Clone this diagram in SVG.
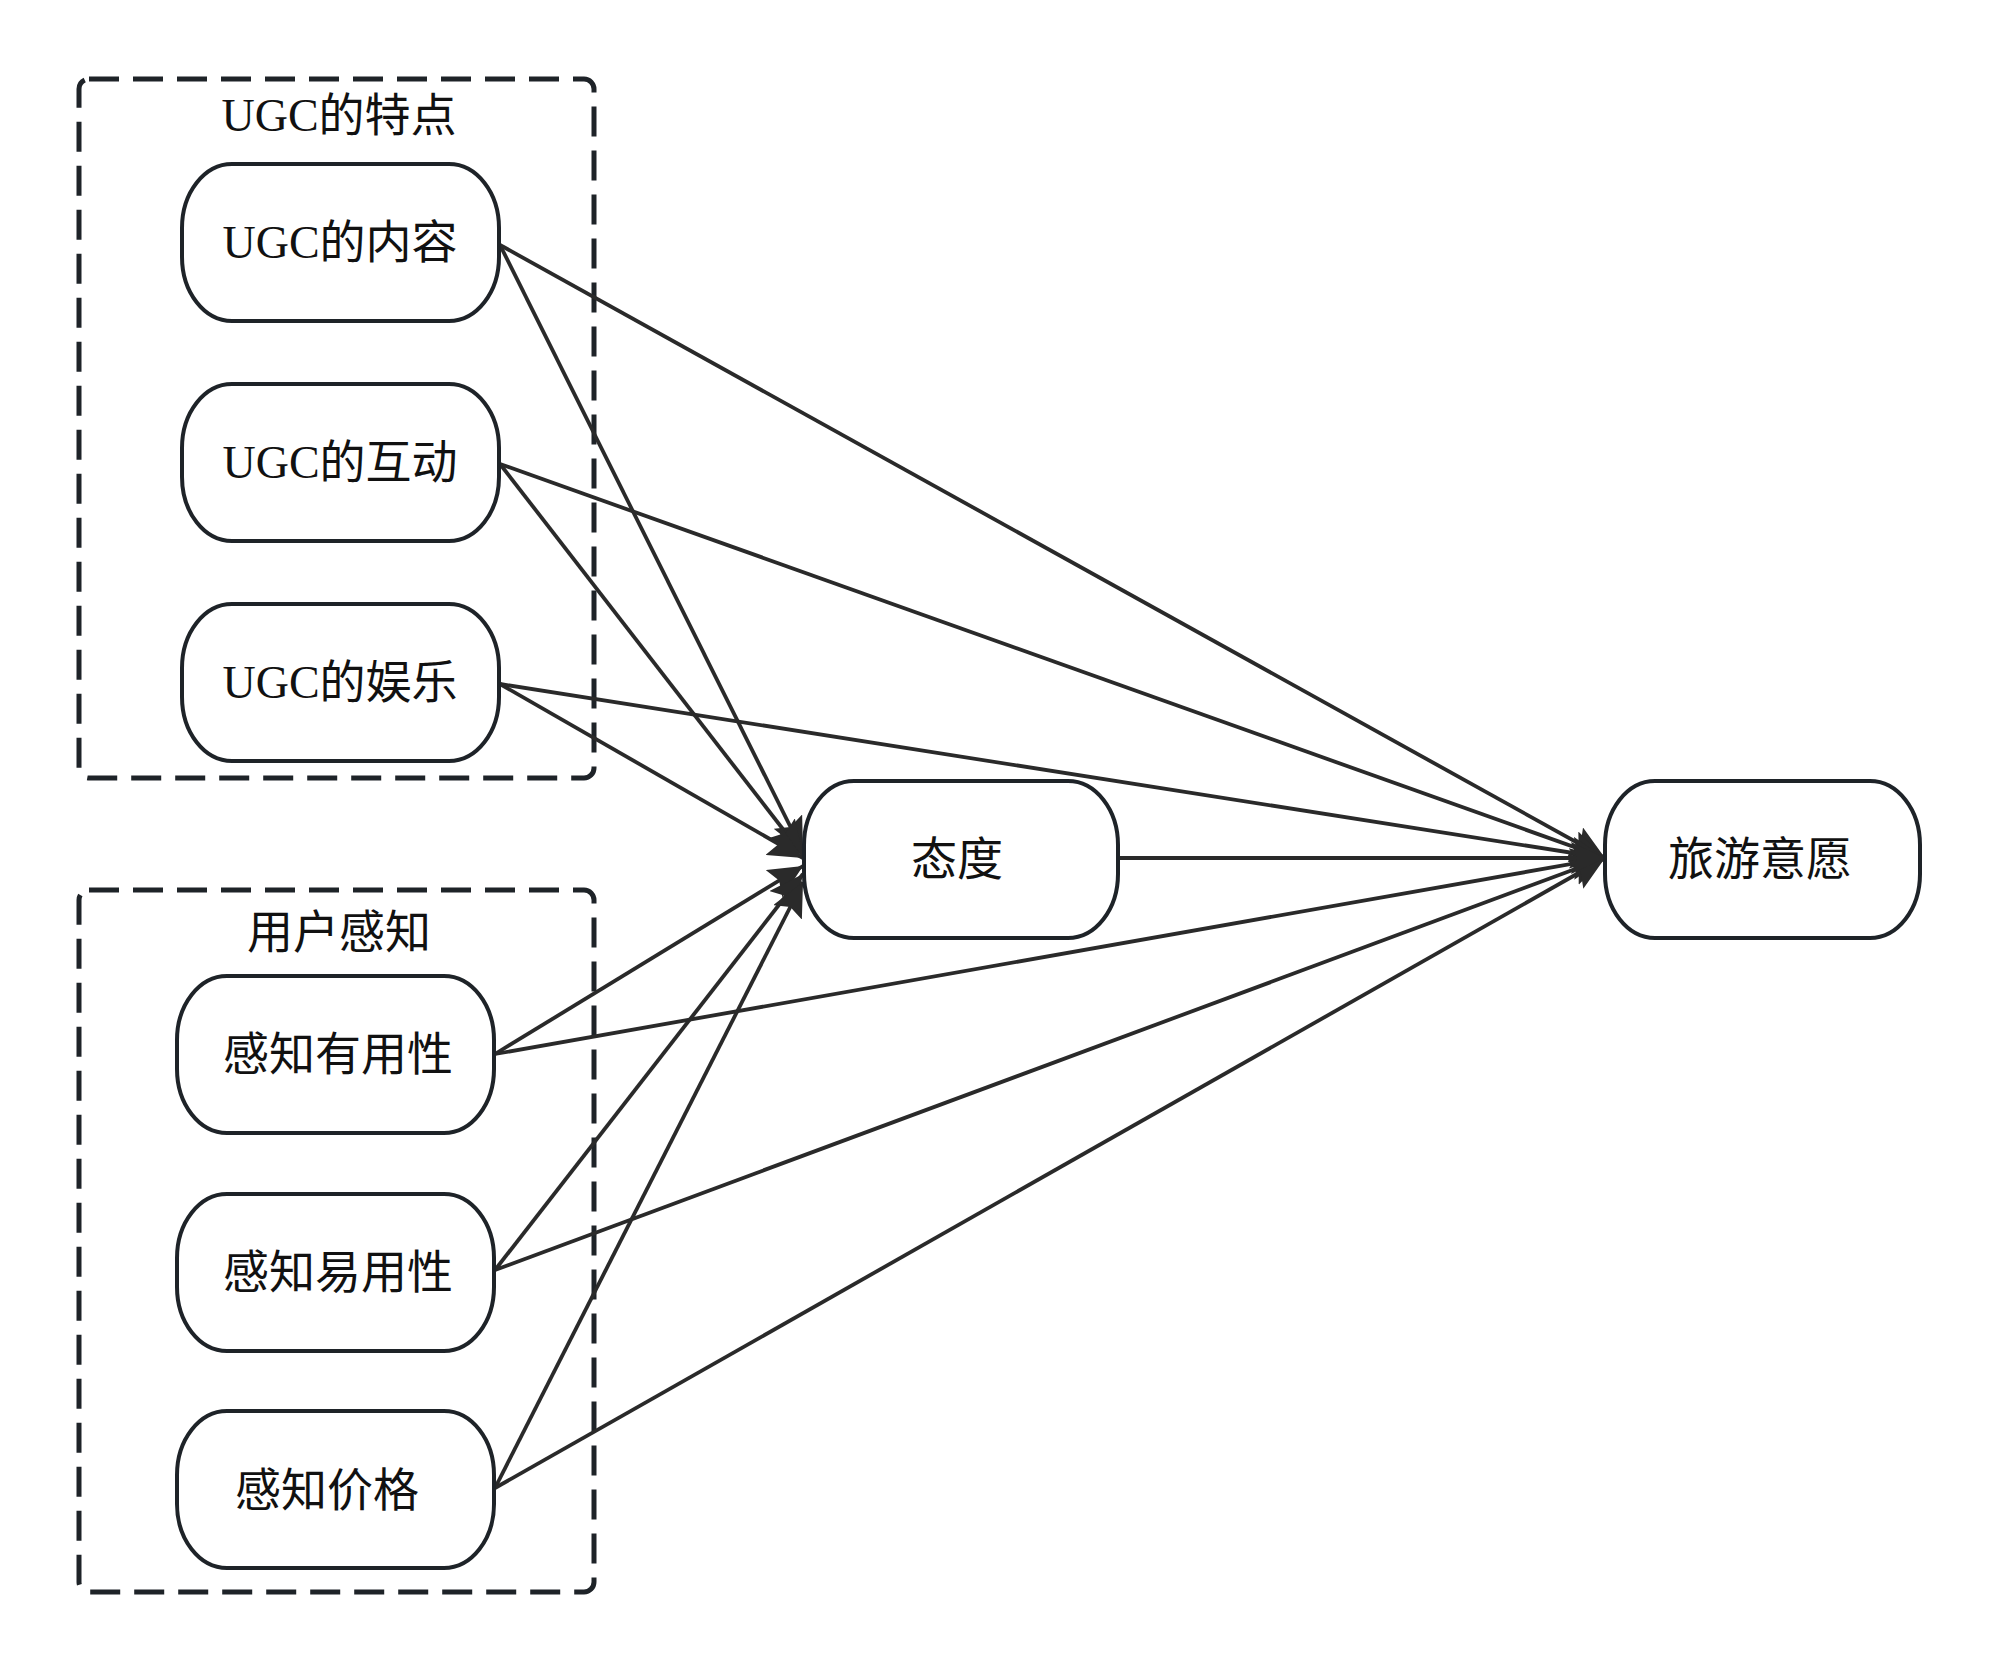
<svg xmlns="http://www.w3.org/2000/svg" width="2000" height="1671" viewBox="0 0 2000 1671">
<style>
.bg{fill:#ffffff}
.group{fill:none;stroke:#1e2328;stroke-width:5;stroke-dasharray:30 14}
.node{fill:#ffffff;stroke:#1e2328;stroke-width:4}
.lbl{font-family:"Liberation Serif","Noto Sans CJK SC",serif;font-size:46px;fill:#111111;text-anchor:middle}
.edge{fill:none;stroke:#2a2a2a;stroke-width:3.8}
</style>
<defs>
<marker id="arr" markerUnits="userSpaceOnUse" markerWidth="36" markerHeight="32" refX="34" refY="16" orient="auto">
<path d="M0,0 L34,16 L0,32 L6,16 z" fill="#2a2a2a"/>
</marker>
</defs>
<rect class="bg" x="0" y="0" width="2000" height="1671"/>
<g id="group-ugc">
<rect class="group" x="79" y="79" width="515" height="699" rx="10"/>
<text class="lbl" x="339" y="131">UGC的特点</text>
</g>
<g id="group-user">
<rect class="group" x="79" y="890" width="515" height="702" rx="10"/>
<text class="lbl" x="339" y="948">用户感知</text>
</g>
<g id="connectors">
<line class="edge" x1="500" y1="245" x2="803" y2="852" marker-end="url(#arr)"/>
<line class="edge" x1="500" y1="245" x2="1605" y2="858" marker-end="url(#arr)"/>
<line class="edge" x1="500" y1="464" x2="803" y2="855" marker-end="url(#arr)"/>
<line class="edge" x1="500" y1="464" x2="1605" y2="858" marker-end="url(#arr)"/>
<line class="edge" x1="500" y1="684" x2="803" y2="858" marker-end="url(#arr)"/>
<line class="edge" x1="500" y1="684" x2="1605" y2="858" marker-end="url(#arr)"/>
<line class="edge" x1="495" y1="1054" x2="803" y2="866" marker-end="url(#arr)"/>
<line class="edge" x1="495" y1="1054" x2="1605" y2="858" marker-end="url(#arr)"/>
<line class="edge" x1="495" y1="1270" x2="803" y2="874" marker-end="url(#arr)"/>
<line class="edge" x1="495" y1="1270" x2="1605" y2="858" marker-end="url(#arr)"/>
<line class="edge" x1="495" y1="1488" x2="803" y2="882" marker-end="url(#arr)"/>
<line class="edge" x1="495" y1="1488" x2="1605" y2="858" marker-end="url(#arr)"/>
<line class="edge" x1="1119" y1="858" x2="1605" y2="858" marker-end="url(#arr)"/>
</g>
<g id="node-content">
<rect class="node" x="182" y="164" width="317" height="157" rx="50" ry="64"/>
<text class="lbl" x="340" y="258">UGC的内容</text>
</g>
<g id="node-interaction">
<rect class="node" x="182" y="384" width="317" height="157" rx="50" ry="64"/>
<text class="lbl" x="340" y="478">UGC的互动</text>
</g>
<g id="node-entertainment">
<rect class="node" x="182" y="604" width="317" height="157" rx="50" ry="64"/>
<text class="lbl" x="340" y="698">UGC的娱乐</text>
</g>
<g id="node-usefulness">
<rect class="node" x="177" y="976" width="317" height="157" rx="50" ry="64"/>
<text class="lbl" x="338" y="1070">感知有用性</text>
</g>
<g id="node-ease">
<rect class="node" x="177" y="1194" width="317" height="157" rx="50" ry="64"/>
<text class="lbl" x="338" y="1288">感知易用性</text>
</g>
<g id="node-price">
<rect class="node" x="177" y="1411" width="317" height="157" rx="50" ry="64"/>
<text class="lbl" x="327" y="1506">感知价格</text>
</g>
<g id="node-attitude">
<rect class="node" x="804" y="781" width="314" height="157" rx="50" ry="64"/>
<text class="lbl" x="957" y="875">态度</text>
</g>
<g id="node-intention">
<rect class="node" x="1605" y="781" width="315" height="157" rx="50" ry="64"/>
<text class="lbl" x="1760" y="875">旅游意愿</text>
</g>
</svg>
